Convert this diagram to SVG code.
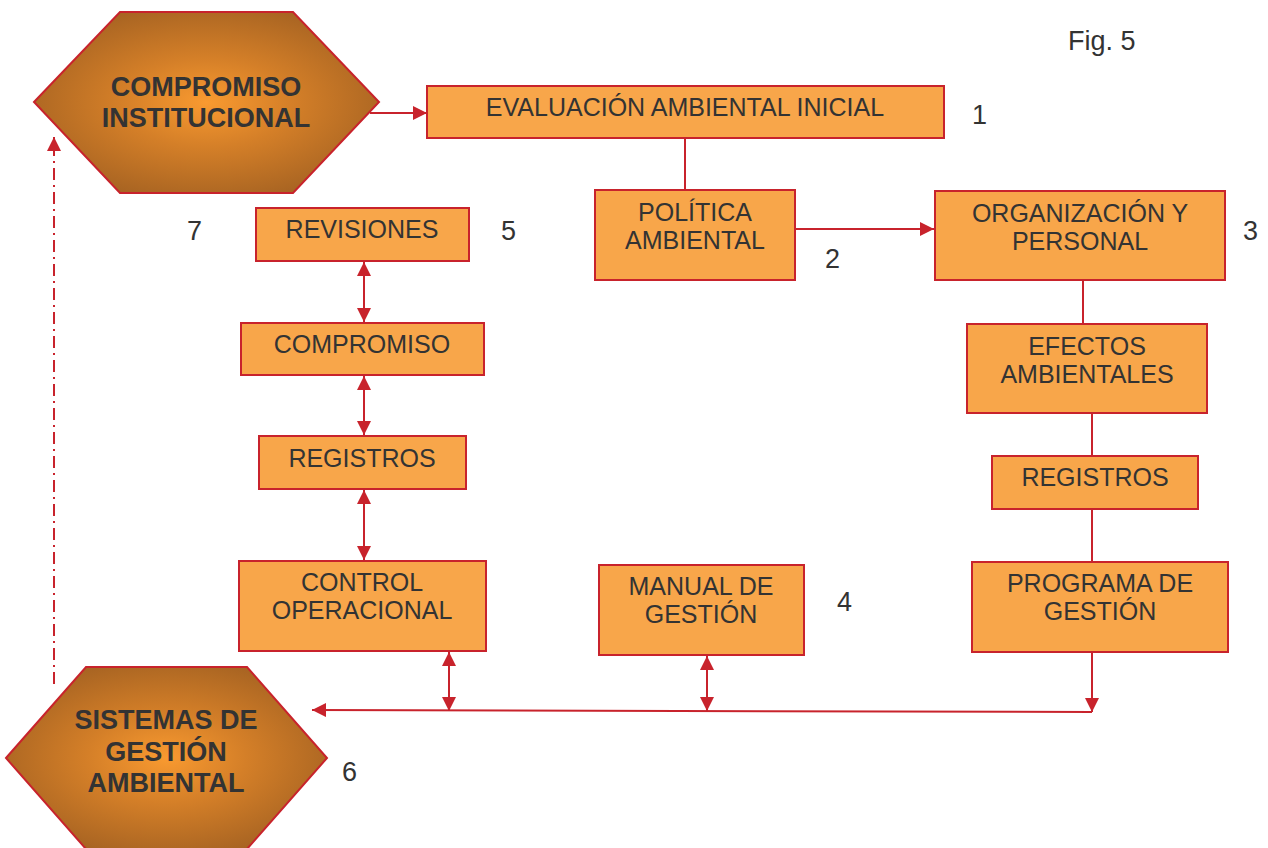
<svg xmlns="http://www.w3.org/2000/svg" width="1268" height="848" viewBox="0 0 1268 848">
<style>
.box{fill:#F8A64A;stroke:#C8232C;stroke-width:2}
.hex{fill:url(#hg);stroke:#C8232C;stroke-width:2}
.t{font-family:"Liberation Sans",Arial,sans-serif;font-size:25px;fill:#333333;text-anchor:middle}
.hb{font-family:"Liberation Sans",Arial,sans-serif;font-size:27px;font-weight:bold;fill:#333333;text-anchor:middle}
.n{font-family:"Liberation Sans",Arial,sans-serif;font-size:27px;fill:#333333}
.c{fill:none;stroke:#C8232C;stroke-width:2}
</style>
<defs>
<radialGradient id="hg" cx="50%" cy="50%" r="55%">
<stop offset="0" stop-color="#F99A30"/>
<stop offset="0.45" stop-color="#D47F28"/>
<stop offset="1" stop-color="#A86422"/>
</radialGradient>
<marker id="ah" viewBox="0 0 10 10" refX="10" refY="5" markerWidth="14" markerHeight="14" markerUnits="userSpaceOnUse" orient="auto-start-reverse">
<path d="M0,0 L10,5 L0,10 z" fill="#C8232C"/>
</marker>
</defs>
<rect width="1268" height="848" fill="#ffffff"/>

<g id="connectors">
<line class="c" x1="370" y1="113" x2="427" y2="113" marker-end="url(#ah)"/>
<line class="c" x1="685" y1="138" x2="685" y2="190"/>
<line class="c" x1="795" y1="229" x2="934" y2="229" marker-end="url(#ah)"/>
<line class="c" x1="1083" y1="280" x2="1083" y2="324"/>
<line class="c" x1="1092" y1="413" x2="1092" y2="456"/>
<line class="c" x1="1092" y1="509" x2="1092" y2="562"/>
<line class="c" x1="1092" y1="652" x2="1092" y2="712" marker-end="url(#ah)"/>
<line class="c" x1="1092" y1="712" x2="312" y2="710" marker-end="url(#ah)"/>
<line class="c" x1="449" y1="652" x2="449" y2="711" marker-start="url(#ah)" marker-end="url(#ah)"/>
<line class="c" x1="707" y1="656" x2="707" y2="711" marker-start="url(#ah)" marker-end="url(#ah)"/>
<line class="c" x1="364" y1="262" x2="364" y2="322" marker-start="url(#ah)" marker-end="url(#ah)"/>
<line class="c" x1="364" y1="376" x2="364" y2="435" marker-start="url(#ah)" marker-end="url(#ah)"/>
<line class="c" x1="364" y1="490" x2="364" y2="560" marker-start="url(#ah)" marker-end="url(#ah)"/>
<line class="c" x1="54" y1="684" x2="54" y2="137" stroke-dasharray="12,5,2,5" marker-end="url(#ah)"/>
</g>

<g id="compromiso-institucional">
<polygon class="hex" points="34,102 120,12 293,12 379,102 293,193 120,193"/>
<text class="hb" x="206" y="96">COMPROMISO</text>
<text class="hb" x="206" y="127">INSTITUCIONAL</text>
</g>

<g id="sistemas-gestion">
<polygon class="hex" points="6,758 86,667 247,667 327,758 247,849 86,849"/>
<text class="hb" x="166" y="729">SISTEMAS DE</text>
<text class="hb" x="166" y="761">GESTIÓN</text>
<text class="hb" x="166" y="792">AMBIENTAL</text>
</g>

<g id="evaluacion">
<rect class="box" x="427" y="86" width="517" height="52"/>
<text class="t" x="685" y="116">EVALUACIÓN AMBIENTAL INICIAL</text>
</g>

<g id="politica">
<rect class="box" x="595" y="190" width="200" height="90"/>
<text class="t" x="695" y="221">POLÍTICA</text>
<text class="t" x="695" y="249">AMBIENTAL</text>
</g>

<g id="organizacion">
<rect class="box" x="935" y="191" width="290" height="89"/>
<text class="t" x="1080" y="222">ORGANIZACIÓN Y</text>
<text class="t" x="1080" y="250">PERSONAL</text>
</g>

<g id="efectos">
<rect class="box" x="967" y="324" width="240" height="89"/>
<text class="t" x="1087" y="355">EFECTOS</text>
<text class="t" x="1087" y="383">AMBIENTALES</text>
</g>

<g id="registros-der">
<rect class="box" x="992" y="456" width="206" height="53"/>
<text class="t" x="1095" y="486">REGISTROS</text>
</g>

<g id="programa">
<rect class="box" x="972" y="562" width="256" height="90"/>
<text class="t" x="1100" y="592">PROGRAMA DE</text>
<text class="t" x="1100" y="620">GESTIÓN</text>
</g>

<g id="manual">
<rect class="box" x="599" y="565" width="205" height="90"/>
<text class="t" x="701" y="595">MANUAL DE</text>
<text class="t" x="701" y="623">GESTIÓN</text>
</g>

<g id="control">
<rect class="box" x="239" y="561" width="247" height="90"/>
<text class="t" x="362" y="591">CONTROL</text>
<text class="t" x="362" y="619">OPERACIONAL</text>
</g>

<g id="registros-izq">
<rect class="box" x="259" y="436" width="207" height="53"/>
<text class="t" x="362" y="467">REGISTROS</text>
</g>

<g id="compromiso">
<rect class="box" x="241" y="323" width="243" height="52"/>
<text class="t" x="362" y="353">COMPROMISO</text>
</g>

<g id="revisiones">
<rect class="box" x="256" y="208" width="213" height="53"/>
<text class="t" x="362" y="238">REVISIONES</text>
</g>

<g id="labels">
<text class="n" x="1068" y="50">Fig. 5</text>
<text class="n" x="972" y="124">1</text>
<text class="n" x="825" y="268">2</text>
<text class="n" x="1243" y="240">3</text>
<text class="n" x="837" y="611">4</text>
<text class="n" x="501" y="240">5</text>
<text class="n" x="342" y="781">6</text>
<text class="n" x="187" y="240">7</text>
</g>
</svg>
